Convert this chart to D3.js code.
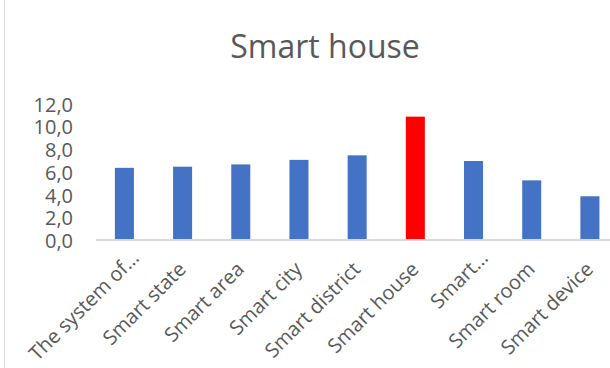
<!DOCTYPE html>
<html>
<head>
<meta charset="utf-8">
<script src="https://cdn.jsdelivr.net/npm/d3@7/dist/d3.min.js"></script>
<style>
  html, body { margin: 0; padding: 0; background: #fff; }
  svg { display: block; font-family: "Open Sans", "Noto Sans", sans-serif; }
</style>
</head>
<body>
<svg id="chart" width="610" height="368"></svg>
<script>
// Chart data
const categories = ["The system of…", "Smart state", "Smart area", "Smart city", "Smart district",
                    "Smart house", "Smart…", "Smart room", "Smart device"];
const values = [6.3, 6.4, 6.6, 7.0, 7.4, 10.8, 6.9, 5.2, 3.8];
const highlighted = "Smart house";
const yTicks = [0, 2, 4, 6, 8, 10, 12];
const chartTitle = "Smart house";

const svg = d3.select("#chart");
const W = 610, H = 368;

const x = d3.scaleBand()
  .domain(categories)
  .range([95.3, 619])
  .paddingInner(0.673)
  .paddingOuter(0.3365);

const y = d3.scaleLinear().domain([0, 12]).range([239.5, 103]);

// frame edge
svg.append("line")
  .attr("x1", 4.5).attr("x2", 4.5).attr("y1", 0).attr("y2", H)
  .attr("stroke", "#d9d9d9").attr("stroke-width", 1);

// title
svg.append("text")
  .attr("x", 325).attr("y", 58)
  .attr("text-anchor", "middle")
  .attr("font-size", 32)
  .attr("fill", "#595959")
  .text(chartTitle);

// y axis labels (no axis line, no ticks)
const fmt = v => d3.format(".1f")(v).replace(".", ",");
const yAxis = svg.append("g")
  .attr("transform", "translate(73,0)")
  .call(d3.axisLeft(y).tickValues(yTicks).tickFormat(fmt).tickSize(0).tickPadding(0));
yAxis.select(".domain").remove();
yAxis.selectAll("text")
  .attr("font-size", 20)
  .attr("font-family", "'Open Sans', 'Noto Sans', sans-serif")
  .attr("fill", "#595959")
  .attr("dy", "0.4em");

// bars
svg.append("g").selectAll("rect")
  .data(categories)
  .join("rect")
  .attr("x", d => x(d))
  .attr("width", x.bandwidth())
  .attr("y", (d, i) => y(values[i]))
  .attr("height", (d, i) => y(0) - y(values[i]))
  .attr("fill", d => d === highlighted ? "#ff0000" : "#4472c4");

// category axis
const xAxis = svg.append("g")
  .attr("transform", `translate(0,${y(0)})`)
  .call(d3.axisBottom(x).tickSize(0).tickSizeOuter(0).tickPadding(0));
xAxis.select(".domain")
  .attr("stroke", "#d9d9d9").attr("stroke-width", 2);
xAxis.selectAll("text")
  .attr("font-size", 20)
  .attr("font-family", "'Open Sans', 'Noto Sans', sans-serif")
  .attr("fill", "#595959")
  .attr("text-anchor", "end")
  .attr("y", 0)
  .attr("dy", 0)
  // truncated labels sit further along the slant
  .attr("dx", d => d.endsWith("…") ? 16 : 0)
  .attr("transform", "translate(4.5,31) rotate(-45)");
</script>
</body>
</html>
